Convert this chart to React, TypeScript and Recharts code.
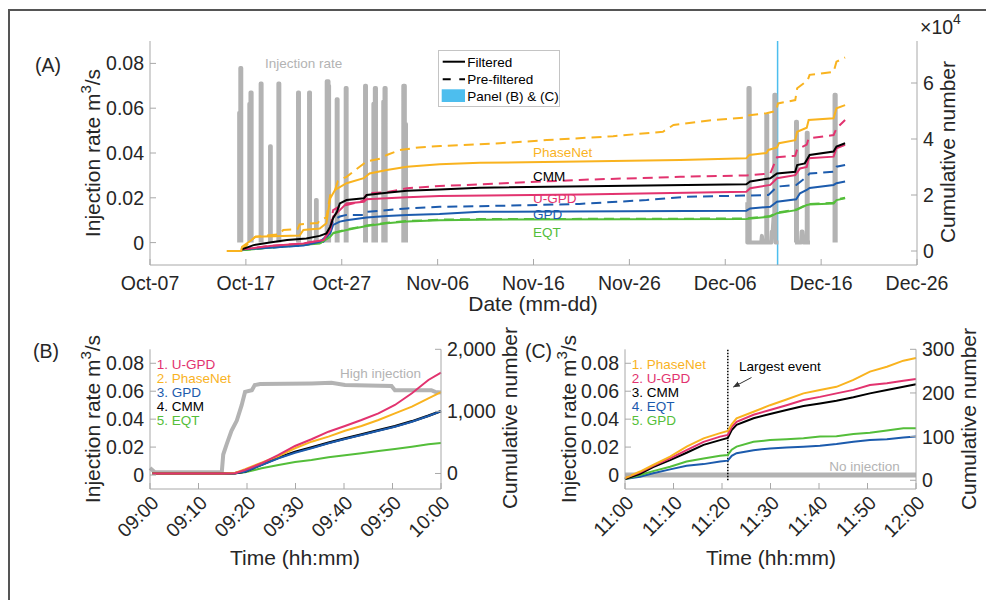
import React from 'react';
import { LineChart, Line, XAxis, YAxis, ReferenceLine } from 'recharts';

const FONT = '"Liberation Sans", Arial, Helvetica, sans-serif';
const YELLOW = '#F9B31F';
const PINK = '#E2336F';
const BLUE = '#1C5BAD';
const GREEN = '#54BE3A';
const GRAY = '#B3B3B3';
const CYAN = '#4DBEEE';
const BOX = '#A8A8A8';
const TXT = '#262626';

// ---------- Panel A (x = days since Oct-07, cumulative in 1e4) ----------
const dateTickDays = [0, 10, 20, 30, 40, 50, 60, 70, 80];
const dateTickLabels = ['Oct-07', 'Oct-17', 'Oct-27', 'Nov-06', 'Nov-16', 'Nov-26', 'Dec-06', 'Dec-16', 'Dec-26'];
const rateTicks = [0, 0.02, 0.04, 0.06, 0.08];
const cumTicksA = [0, 2, 4, 6];
const panelBCDay = 65.46;

const daysPhaseNetA = [8.0, 9.5, 9.6, 10.6, 11.0, 15.6, 16.0, 17.7, 18.4, 18.8, 19.3, 20.5, 22.3, 22.9, 24.7, 26.8, 30.2, 34.4, 44.8, 55.3, 62.2, 62.5, 64.3, 64.5, 65.4, 65.6, 67.3, 67.5, 68.5, 68.7, 71.3, 71.6, 72.5];
const cumPhaseNetA = [0, 0, 0.15, 0.39, 0.51, 0.55, 0.75, 0.8, 0.99, 1.88, 2.18, 2.42, 2.6, 2.77, 2.89, 3.01, 3.1, 3.15, 3.2, 3.25, 3.31, 3.43, 3.5, 3.61, 3.7, 3.85, 3.96, 4.26, 4.4, 4.68, 4.74, 5.1, 5.21];

const daysPhaseNetPreA = [9.5, 10.6, 11.0, 13.5, 13.9, 15.4, 15.6, 17.5, 17.7, 18.4, 18.8, 19.3, 19.6, 20.5, 22.6, 24.0, 24.7, 26.0, 28.0, 30.3, 36.5, 41.4, 48.3, 53.5, 54.6, 58.7, 62.2, 62.5, 64.3, 65.3, 65.5, 67.3, 67.5, 68.6, 68.8, 71.3, 71.6, 72.5];
const cumPhaseNetPreA = [0, 0.39, 0.51, 0.6, 0.75, 0.78, 0.95, 1.0, 1.1, 1.2, 2.0, 2.18, 2.5, 2.65, 3.2, 3.3, 3.43, 3.6, 3.7, 3.75, 3.85, 3.96, 4.1, 4.26, 4.5, 4.68, 4.77, 4.85, 4.92, 5.0, 5.27, 5.39, 5.81, 6.1, 6.29, 6.4, 6.76, 6.91];

const daysCMMA = [9.5, 10.8, 12.5, 14.3, 16.3, 17.7, 18.4, 18.8, 19.1, 19.5, 19.8, 20.5, 22.3, 22.6, 24.7, 26.8, 30.2, 34.4, 62.2, 62.6, 64.7, 65.4, 67.3, 67.5, 68.3, 68.8, 71.3, 71.6, 72.5];
const cumCMMA = [0.05, 0.21, 0.3, 0.39, 0.45, 0.54, 0.63, 0.87, 1.17, 1.4, 1.7, 1.82, 1.88, 2.0, 2.08, 2.15, 2.2, 2.26, 2.38, 2.48, 2.6, 2.77, 2.83, 3.07, 3.13, 3.43, 3.55, 3.73, 3.85];

const daysUGPDA = [9.5, 12.5, 16.0, 18.1, 18.8, 19.1, 19.8, 20.5, 22.3, 22.6, 24.7, 26.8, 30.2, 45.0, 62.2, 62.6, 64.7, 65.4, 67.3, 67.8, 68.5, 68.7, 71.3, 71.6, 72.5];
const cumUGPDA = [0.05, 0.18, 0.27, 0.39, 0.75, 1.23, 1.46, 1.7, 1.76, 1.85, 1.88, 1.92, 1.96, 2.02, 2.12, 2.24, 2.36, 2.6, 2.71, 2.95, 3.0, 3.31, 3.37, 3.67, 3.79];

const daysUGPDPreA = [9.5, 12.5, 16.0, 18.1, 18.8, 19.1, 19.8, 20.5, 22.3, 22.6, 24.7, 26.8, 30.2, 34.4, 44.8, 55.3, 62.2, 64.7, 65.4, 67.3, 67.5, 68.5, 68.7, 71.3, 71.6, 72.5];
const cumUGPDPreA = [0.05, 0.18, 0.27, 0.39, 0.8, 1.46, 1.6, 1.64, 1.8, 2.06, 2.1, 2.24, 2.32, 2.38, 2.54, 2.65, 2.7, 2.77, 3.35, 3.4, 3.63, 3.8, 4.02, 4.14, 4.38, 4.68];

const daysGPDPreA = [9.5, 16.0, 18.1, 18.8, 19.1, 19.8, 20.5, 22.3, 22.6, 26.8, 30.2, 34.4, 44.8, 51.8, 56.0, 62.2, 64.5, 64.7, 65.4, 67.4, 68.5, 68.8, 71.3, 71.6, 72.5];
const cumGPDPreA = [0.05, 0.2, 0.33, 0.63, 1.1, 1.23, 1.29, 1.29, 1.4, 1.52, 1.58, 1.6, 1.68, 1.82, 1.94, 1.98, 2.0, 2.06, 2.3, 2.36, 2.65, 2.77, 2.83, 3.01, 3.07];

const daysGPDA = [9.5, 16.0, 17.7, 18.8, 19.1, 19.8, 20.5, 22.6, 24.7, 26.8, 30.2, 34.4, 62.2, 62.6, 64.7, 65.4, 67.4, 67.8, 68.5, 68.8, 71.3, 71.6, 72.5];
const cumGPDA = [0.05, 0.2, 0.33, 0.63, 0.93, 1.05, 1.1, 1.2, 1.25, 1.29, 1.32, 1.4, 1.44, 1.52, 1.58, 1.76, 1.85, 2.06, 2.18, 2.25, 2.36, 2.42, 2.48];

const daysEQTA = [9.5, 17.7, 18.8, 19.1, 20.5, 22.6, 24.7, 26.8, 30.2, 34.4, 62.2, 64.7, 65.4, 67.4, 68.5, 68.8, 71.3, 71.6, 72.5];
const cumEQTA = [0.03, 0.27, 0.51, 0.63, 0.75, 0.89, 0.99, 1.05, 1.1, 1.12, 1.14, 1.23, 1.35, 1.46, 1.64, 1.66, 1.7, 1.82, 1.88];
const cumEQTPreA = [0.03, 0.28, 0.52, 0.65, 0.77, 0.91, 1.01, 1.07, 1.12, 1.14, 1.16, 1.25, 1.37, 1.48, 1.66, 1.68, 1.72, 1.84, 1.9];

// injection rate (m3/s); null = data gap
const injDaysA = [
  9.3, 9.3, 9.42, 9.42, 9.52, 9.52, 9.6,
  10.36, 10.36, 10.48, 10.48, 10.6, 10.6, 10.7,
  11.54, 11.54, 11.64, 11.64, 11.7,
  12.52, 12.52, 12.6, 12.6, 12.7,
  13.39, 13.39, 13.49, 13.49, 13.55,
  15.44, 15.44, 15.54, 15.54, 15.6,
  16.59, 16.59, 16.69, 16.69, 16.75,
  17.31, 17.31, 17.39, 17.39, 17.45,
  18.43, 18.43, 18.62, 18.62, 18.68, 18.68, 18.75,
  19.47, 19.47, 19.57, 19.57, 19.62,
  20.41, 20.41, 20.51, 20.51, 20.56,
  22.43, 22.43, 22.53, 22.53, 22.6,
  23.3, 23.3, 23.45, 23.45, 23.57, 23.57, 23.65,
  24.33, 24.33, 24.46, 24.46, 24.58, 24.58, 24.66,
  26.42, 26.42, 26.58, 26.58, 26.7, 26.7, 26.78,
  62.24, 62.3, 62.3, 62.42, 62.42, 62.55, 62.55, 63.75, 63.82, 63.9, 64.28, 64.28, 64.38, 64.38, 64.8, 64.86, 64.95, 65.05, 65.12, 65.12, 65.24, 65.24, 65.55, 65.6,
  67.28, 67.38, 67.38, 67.48, 67.48, 67.9, 67.97, 68.05, 68.15, 68.5, 68.5, 68.6, 68.6, 68.84, 68.9,
  71.4, 71.4, 71.52, 71.52,
];
const injRateA = [
  0, 0.058, 0.058, 0.078, 0.078, 0, null,
  0, 0.062, 0.062, 0.067, 0.067, 0, null,
  0, 0.071, 0.071, 0, null,
  0, 0.043, 0.043, 0, null,
  0, 0.071, 0.071, 0, null,
  0, 0.067, 0.067, 0, null,
  0, 0.067, 0.067, 0, null,
  0, 0.019, 0.019, 0, null,
  0, 0.072, 0.072, 0.07, 0.07, 0, null,
  0, 0.064, 0.064, 0, null,
  0, 0.069, 0.069, 0, null,
  0, 0.07, 0.07, 0, null,
  0, 0.062, 0.062, 0.069, 0.069, 0, null,
  0, 0.063, 0.063, 0.069, 0.069, 0, null,
  0, 0.07, 0.07, 0.053, 0.053, 0, null,
  0.018, 0.018, 0, 0, 0.069, 0.069, 0, 0, 0.003, 0, 0, 0.057, 0.057, 0, 0, 0.005, 0.005, 0.012, 0.012, 0.066, 0.066, 0, 0, null,
  0, 0, 0.054, 0.054, 0, 0, 0.005, 0.005, 0, 0, 0.049, 0.049, 0, 0, null,
  0, 0.066, 0.066, 0,
];

// ---------- Panel B (x = minutes after 09:00) ----------
const timeTicks = [0, 10, 20, 30, 40, 50, 60];
const timeLabelsB = ['09:00', '09:10', '09:20', '09:30', '09:40', '09:50', '10:00'];
const cumTicksB = [0, 1000, 2000];
const minutesB = [0.5, 15, 17.5, 19.6, 23.0, 26.5, 29.9, 33.3, 36.8, 40.2, 43.6, 47.1, 50.5, 54.0, 57.4, 60];
const cumUGPDB = [0, 0, 5, 56, 164, 298, 443, 551, 673, 765, 862, 969, 1103, 1291, 1506, 1625];
const cumPhaseNetB = [0, 0, 8, 68, 174, 282, 406, 512, 593, 689, 765, 862, 969, 1076, 1211, 1310];
const cumGPDB = [0, 0, 3, 29, 137, 245, 335, 406, 486, 556, 620, 689, 754, 834, 926, 1005];
const cumCMMB = [0, 0, 3, 32, 145, 255, 348, 418, 495, 563, 628, 695, 760, 840, 930, 1005];
const cumEQTB = [0, 0, 2, 19, 84, 137, 185, 217, 261, 293, 325, 362, 395, 432, 470, 490];
const injMinutesB = [0, 1, 14.8, 15.1, 15.8, 16.8, 17.9, 18.9, 19.6, 21.0, 21.6, 22.7, 33.3, 37.4, 40.2, 49.8, 50.5, 58.0, 58.8, 60];
const injRateB = [0.005, 0.002, 0.002, 0.0147, 0.022, 0.0316, 0.039, 0.05, 0.0595, 0.0607, 0.0644, 0.0651, 0.0656, 0.066, 0.0644, 0.0637, 0.0607, 0.0607, 0.0595, 0.059];

// ---------- Panel C (x = minutes after 11:00) ----------
const timeLabelsC = ['11:00', '11:10', '11:20', '11:30', '11:40', '11:50', '12:00'];
const cumTicksC = [0, 100, 200, 300];
const largestEventMinute = 21.2;
const minutesC = [0, 3.1, 5.8, 9.3, 12.7, 16.2, 19.6, 21.2, 22.0, 23.0, 26.5, 29.9, 33.3, 36.8, 40.2, 43.6, 47.1, 50.5, 54.0, 57.4, 60];
const cumPhaseNetC = [5, 20, 35, 54, 77, 96, 108, 113, 128, 142, 157, 172, 185, 199, 207, 214, 230, 249, 260, 274, 280];
const cumUGPDC = [5, 18, 33, 50, 69, 88, 100, 104, 122, 134, 150, 161, 172, 184, 191, 199, 207, 218, 222, 228, 232];
const cumCMMC = [3, 15, 30, 46, 63, 81, 92, 97, 115, 127, 142, 152, 161, 170, 176, 182, 190, 199, 207, 214, 220];
const cumGPDC = [3, 12, 21, 31, 43, 50, 56, 58, 70, 77, 88, 92, 94, 96, 100, 101, 106, 109, 114, 119, 119];
const cumEQTC = [3, 8, 16, 25, 33, 37, 43, 45, 56, 62, 69, 73, 75, 77, 79, 83, 88, 92, 94, 98, 100];
const injMinutesC = [0, 60];
const injRateC = [0, 0];

const pts = (xs: number[], ys: (number | null)[]) => xs.map((x, i) => ({ x, y: ys[i] }));

const tickStyle = { fontSize: 19.5, fill: TXT, fontFamily: FONT };
const fmtRate = (v: number) => (v === 0 ? '0' : v.toFixed(2));
const fmtThousands = (v: number) => v.toLocaleString('en-US');

function makeRotTick(ticks: number[], labels: string[]) {
  return (props: any) => {
    const { x, y, payload } = props;
    const i = ticks.indexOf(payload.value);
    const ax = x + 10;
    const ay = y;
    return (
      <text x={ax} y={ay} textAnchor="end" transform={`rotate(-45 ${ax} ${ay})`} fontSize={19.5} fill={TXT} fontFamily={FONT}>
        {labels[i]}
      </text>
    );
  };
}

const lineBase = { type: 'linear' as const, dot: false, isAnimationActive: false, activeDot: false };

function PanelA() {
  const dashed = '10 6';
  return (
    <LineChart width={986} height={320} margin={{ top: 41, left: 90, right: 29, bottom: 25 }}>
      <XAxis xAxisId={0} dataKey="x" type="number" domain={[0, 80]} ticks={dateTickDays} tickFormatter={(v: number) => dateTickLabels[dateTickDays.indexOf(v)]} stroke={BOX} tickSize={-6} tickMargin={17} height={30} tick={tickStyle} interval={0} />
      <XAxis xAxisId="top" orientation="top" dataKey="x" type="number" domain={[0, 80]} ticks={dateTickDays} stroke={BOX} tickSize={-6} height={0} tick={false} />
      <YAxis yAxisId="left" domain={[-0.01, 0.09]} ticks={rateTicks} tickFormatter={fmtRate} stroke={BOX} tickSize={-6} tickMargin={12} width={60} tick={tickStyle} interval={0} />
      <YAxis yAxisId="right" orientation="right" domain={[-0.5, 7.5]} ticks={cumTicksA} stroke={BOX} tickSize={-6} tickMargin={12} width={40} tick={tickStyle} interval={0} />
      <ReferenceLine x={panelBCDay} yAxisId="left" stroke={CYAN} strokeWidth={1.5} />
      <Line {...lineBase} yAxisId="left" data={pts(injDaysA, injRateA)} dataKey="y" stroke={GRAY} strokeWidth={4} strokeLinejoin="round" />
      <Line {...lineBase} yAxisId="right" data={pts(daysEQTA, cumEQTPreA)} dataKey="y" stroke={GREEN} strokeWidth={2} strokeDasharray={dashed} />
      <Line {...lineBase} yAxisId="right" data={pts(daysGPDPreA, cumGPDPreA)} dataKey="y" stroke={BLUE} strokeWidth={2} strokeDasharray={dashed} />
      <Line {...lineBase} yAxisId="right" data={pts(daysUGPDPreA, cumUGPDPreA)} dataKey="y" stroke={PINK} strokeWidth={2} strokeDasharray={dashed} />
      <Line {...lineBase} yAxisId="right" data={pts(daysPhaseNetPreA, cumPhaseNetPreA)} dataKey="y" stroke={YELLOW} strokeWidth={2} strokeDasharray={dashed} />
      <Line {...lineBase} yAxisId="right" data={pts(daysEQTA, cumEQTA)} dataKey="y" stroke={GREEN} strokeWidth={2} />
      <Line {...lineBase} yAxisId="right" data={pts(daysGPDA, cumGPDA)} dataKey="y" stroke={BLUE} strokeWidth={2} />
      <Line {...lineBase} yAxisId="right" data={pts(daysUGPDA, cumUGPDA)} dataKey="y" stroke={PINK} strokeWidth={2} />
      <Line {...lineBase} yAxisId="right" data={pts(daysCMMA, cumCMMA)} dataKey="y" stroke="#000" strokeWidth={2} />
      <Line {...lineBase} yAxisId="right" data={pts(daysPhaseNetA, cumPhaseNetA)} dataKey="y" stroke={YELLOW} strokeWidth={2} />
    </LineChart>
  );
}

function PanelB() {
  return (
    <LineChart width={520} height={270} margin={{ top: 19.3, left: 90, right: 49, bottom: 81 }}>
      <XAxis xAxisId={0} dataKey="x" type="number" domain={[0, 60]} ticks={timeTicks} stroke={BOX} tickSize={-6} tickMargin={21} height={30} tick={makeRotTick(timeTicks, timeLabelsB)} interval={0} />
      <XAxis xAxisId="top" orientation="top" dataKey="x" type="number" domain={[0, 60]} ticks={timeTicks} stroke={BOX} tickSize={-6} height={0} tick={false} />
      <YAxis yAxisId="left" domain={[-0.01, 0.09]} ticks={rateTicks} tickFormatter={fmtRate} stroke={BOX} tickSize={-6} tickMargin={12} width={60} tick={tickStyle} interval={0} />
      <YAxis yAxisId="right" orientation="right" domain={[-250, 2000]} ticks={cumTicksB} tickFormatter={fmtThousands} stroke={BOX} tickSize={-6} tickMargin={12} width={30} tick={tickStyle} interval={0} />
      <Line {...lineBase} yAxisId="left" data={pts(injMinutesB, injRateB)} dataKey="y" stroke={GRAY} strokeWidth={4} />
      <Line {...lineBase} yAxisId="right" data={pts(minutesB, cumEQTB)} dataKey="y" stroke={GREEN} strokeWidth={2} />
      <Line {...lineBase} yAxisId="right" data={pts(minutesB, cumCMMB)} dataKey="y" stroke="#000" strokeWidth={2.5} />
      <Line {...lineBase} yAxisId="right" data={pts(minutesB, cumGPDB)} dataKey="y" stroke={BLUE} strokeWidth={2} />
      <Line {...lineBase} yAxisId="right" data={pts(minutesB, cumPhaseNetB)} dataKey="y" stroke={YELLOW} strokeWidth={2} />
      <Line {...lineBase} yAxisId="right" data={pts(minutesB, cumUGPDB)} dataKey="y" stroke={PINK} strokeWidth={2} />
    </LineChart>
  );
}

function PanelC() {
  return (
    <LineChart width={486} height={270} margin={{ top: 19.3, left: 65, right: 30, bottom: 81 }}>
      <XAxis xAxisId={0} dataKey="x" type="number" domain={[0, 60]} ticks={timeTicks} stroke={BOX} tickSize={-6} tickMargin={21} height={30} tick={makeRotTick(timeTicks, timeLabelsC)} interval={0} />
      <XAxis xAxisId="top" orientation="top" dataKey="x" type="number" domain={[0, 60]} ticks={timeTicks} stroke={BOX} tickSize={-6} height={0} tick={false} />
      <YAxis yAxisId="left" domain={[-0.01, 0.09]} ticks={rateTicks} tickFormatter={fmtRate} stroke={BOX} tickSize={-6} tickMargin={12} width={60} tick={tickStyle} interval={0} />
      <YAxis yAxisId="right" orientation="right" domain={[-20, 300]} ticks={cumTicksC} stroke={BOX} tickSize={-6} tickMargin={12} width={40} tick={tickStyle} interval={0} />
      <Line {...lineBase} yAxisId="left" data={pts(injMinutesC, injRateC)} dataKey="y" stroke={GRAY} strokeWidth={5} />
      <ReferenceLine yAxisId="right" segment={[{ x: largestEventMinute, y: 0 }, { x: largestEventMinute, y: 300 }]} stroke="#000" strokeWidth={1.5} strokeDasharray="1.5 1.5" />
      <Line {...lineBase} yAxisId="right" data={pts(minutesC, cumEQTC)} dataKey="y" stroke={BLUE} strokeWidth={2} />
      <Line {...lineBase} yAxisId="right" data={pts(minutesC, cumGPDC)} dataKey="y" stroke={GREEN} strokeWidth={2} />
      <Line {...lineBase} yAxisId="right" data={pts(minutesC, cumCMMC)} dataKey="y" stroke="#000" strokeWidth={2} />
      <Line {...lineBase} yAxisId="right" data={pts(minutesC, cumUGPDC)} dataKey="y" stroke={PINK} strokeWidth={2} />
      <Line {...lineBase} yAxisId="right" data={pts(minutesC, cumPhaseNetC)} dataKey="y" stroke={YELLOW} strokeWidth={2} />
    </LineChart>
  );
}

function RotLabel({ x, y, text, sup, after }: { x: number; y: number; text: string; sup?: string; after?: string }) {
  return (
    <text transform={`translate(${x} ${y}) rotate(-90)`} textAnchor="middle" fontSize={21} fill={TXT} fontFamily={FONT}>
      {text}
      {sup ? <tspan dy={-9} fontSize={15}>{sup}</tspan> : null}
      {after ? <tspan dy={sup ? 9 : 0}>{after}</tspan> : null}
    </text>
  );
}

function Overlay() {
  const t14 = { fontSize: 13.5, fontFamily: FONT };
  return (
    <svg width={986} height={600} style={{ position: 'absolute', left: 0, top: 0, pointerEvents: 'none' }}>
      <defs>
        <marker id="arr" viewBox="0 0 10 10" refX="9" refY="5" markerWidth="7" markerHeight="7" orient="auto">
          <path d="M0,1 L10,5 L0,9 z" fill="#333" />
        </marker>
      </defs>
      {/* Panel A texts */}
      <text x={35} y={72} fontSize={19.5} fill={TXT} fontFamily={FONT}>(A)</text>
      <RotLabel x={100} y={153} text="Injection rate m" sup="3" after="/s" />
      <RotLabel x={955} y={152} text="Cumulative number" />
      <text x={533} y={311} textAnchor="middle" fontSize={21} fill={TXT} fontFamily={FONT}>Date (mm-dd)</text>
      <text x={920} y={34} fontSize={19.5} fill={TXT} fontFamily={FONT}>×10<tspan dy={-10} fontSize={14}>4</tspan></text>
      <text x={265} y={68} {...t14} fill={GRAY}>Injection rate</text>
      <text x={533} y={157} {...t14} fill={YELLOW}>PhaseNet</text>
      <text x={533} y={181} {...t14} fill="#000">CMM</text>
      <text x={533} y={203} {...t14} fill={PINK}>U-GPD</text>
      <text x={533} y={219} {...t14} fill={BLUE}>GPD</text>
      <text x={533} y={237} {...t14} fill={GREEN}>EQT</text>
      {/* Legend A */}
      <rect x={438.5} y={50.5} width={121} height={56} fill="#fff" stroke="#C4C4C4" strokeWidth={1} />
      <line x1={442.7} y1={61.7} x2={465} y2={61.7} stroke="#000" strokeWidth={2} />
      <line x1={442.7} y1={79.3} x2={465} y2={79.3} stroke="#000" strokeWidth={2} strokeDasharray="8 8.6" />
      <rect x={441.7} y={89.3} width={23.3} height={12.7} fill={CYAN} />
      <text x={467.3} y={66.5} {...t14} fill="#000">Filtered</text>
      <text x={467.3} y={84} {...t14} fill="#000">Pre-filtered</text>
      <text x={467.3} y={101} {...t14} fill="#000">Panel (B) &amp; (C)</text>

      {/* Panel B texts */}
      <text x={33} y={358} fontSize={19.5} fill={TXT} fontFamily={FONT}>(B)</text>
      <RotLabel x={100} y={419} text="Injection rate m" sup="3" after="/s" />
      <RotLabel x={516.7} y={418} text="Cumulative number" />
      <text x={295} y={565} textAnchor="middle" fontSize={21} fill={TXT} fontFamily={FONT}>Time (hh:mm)</text>
      <text x={156.7} y={369} {...t14} fill={PINK}>1. U-GPD</text>
      <text x={156.7} y={383} {...t14} fill={YELLOW}>2. PhaseNet</text>
      <text x={156.7} y={397} {...t14} fill={BLUE}>3. GPD</text>
      <text x={156.7} y={411} {...t14} fill="#000">4. CMM</text>
      <text x={156.7} y={425} {...t14} fill={GREEN}>5. EQT</text>
      <text x={340} y={378} {...t14} fill={GRAY}>High injection</text>

      {/* Panel C texts */}
      <text x={525} y={358} fontSize={19.5} fill={TXT} fontFamily={FONT}>(C)</text>
      <RotLabel x={576} y={419} text="Injection rate m" sup="3" after="/s" />
      <RotLabel x={976} y={419} text="Cumulative number" />
      <text x={771} y={565} textAnchor="middle" fontSize={21} fill={TXT} fontFamily={FONT}>Time (hh:mm)</text>
      <text x={631.7} y={369} {...t14} fill={YELLOW}>1. PhaseNet</text>
      <text x={631.7} y={383} {...t14} fill={PINK}>2. U-GPD</text>
      <text x={631.7} y={397} {...t14} fill="#000">3. CMM</text>
      <text x={631.7} y={411} {...t14} fill={BLUE}>4. EQT</text>
      <text x={631.7} y={425} {...t14} fill={GREEN}>5. GPD</text>
      <text x={739} y={371} {...t14} fill="#000">Largest event</text>
      <line x1={751.5} y1={377.5} x2={733.5} y2={387} stroke="#333" strokeWidth={1} markerEnd="url(#arr)" />
      <text x={829.3} y={470.7} {...t14} fill={GRAY}>No injection</text>
    </svg>
  );
}

export default function App() {
  return (
    <div style={{ position: 'absolute', left: 0, top: 0, width: 986, height: 600, overflow: 'hidden', background: '#fff', fontFamily: FONT }}>
      <div style={{ position: 'absolute', left: 8, top: 9, width: 1000, height: 620, border: '2px solid #555', boxSizing: 'border-box' }} />
      <div style={{ position: 'absolute', left: 0, top: 0 }}><PanelA /></div>
      <div style={{ position: 'absolute', left: 0, top: 330 }}><PanelB /></div>
      <div style={{ position: 'absolute', left: 500, top: 330 }}><PanelC /></div>
      <Overlay />
    </div>
  );
}
